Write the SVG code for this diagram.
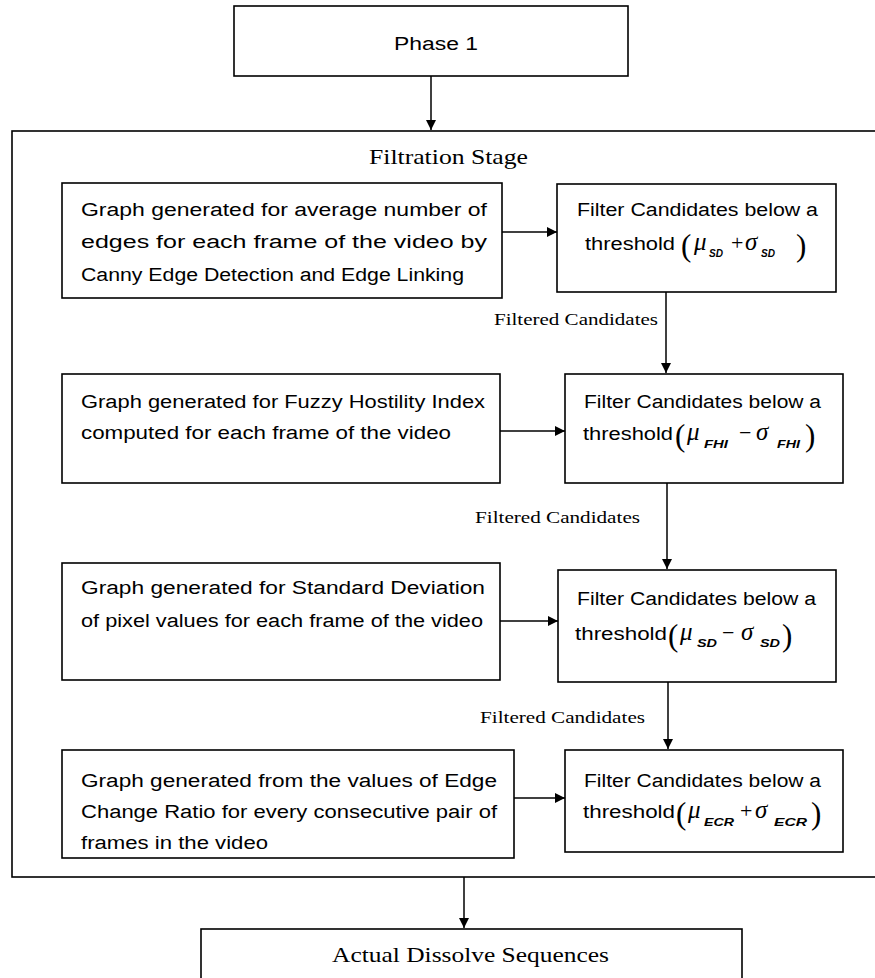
<svg xmlns="http://www.w3.org/2000/svg" width="875" height="978" viewBox="0 0 875 978">
<style>
.box{fill:#fff;stroke:#000;stroke-width:1.6}
.sans{font-family:"Liberation Sans",Arial,sans-serif;font-size:18px;fill:#000}
.serif{font-family:"Liberation Serif","Times New Roman",serif;fill:#000}
.math{font-family:"Liberation Serif","Times New Roman",serif;font-style:italic;font-size:25px}
.sub{font-family:"Liberation Sans",Arial,sans-serif;font-style:italic;font-weight:bold;font-size:11px}
.par{font-family:"Liberation Serif","Times New Roman",serif;font-size:31px}
.op{font-family:"Liberation Serif","Times New Roman",serif;font-size:22px}
.conn line{stroke:#000;stroke-width:1.5}
</style>
<defs>
<marker id="ah" viewBox="0 0 10 10" refX="10" refY="5" markerWidth="10" markerHeight="10" markerUnits="userSpaceOnUse" orient="auto">
<path d="M0,0 L10,5 L0,10 z" fill="#000"/>
</marker>
</defs>
<rect width="875" height="978" fill="#fff"/>

<g id="phase1">
<rect class="box" x="234" y="6" width="394" height="70"/>
<text class="sans" x="394" y="50" font-size="21" textLength="84" lengthAdjust="spacingAndGlyphs">Phase 1</text>
</g>

<g id="filtration-stage">
<rect class="box" x="12" y="131" width="870" height="746"/>
<text class="serif" x="369" y="164" font-size="21" textLength="159" lengthAdjust="spacingAndGlyphs">Filtration Stage</text>
</g>

<g id="graph-edges">
<rect class="box" x="62" y="183" width="440" height="115"/>
<text class="sans"><tspan x="81" y="216" textLength="406" lengthAdjust="spacingAndGlyphs">Graph generated for average number of</tspan><tspan x="81" y="248" textLength="406" lengthAdjust="spacingAndGlyphs">edges for each frame of the video by</tspan><tspan x="81" y="281" textLength="383" lengthAdjust="spacingAndGlyphs">Canny Edge Detection and Edge Linking</tspan></text>
</g>

<g id="filter-sd-plus">
<rect class="box" x="557" y="184" width="279" height="108"/>
<text class="sans" x="577" y="216" textLength="241" lengthAdjust="spacingAndGlyphs">Filter Candidates below a</text>
<text class="sans" x="585" y="250" textLength="90" lengthAdjust="spacingAndGlyphs">threshold</text>
<text><tspan class="par" x="681" y="256">(</tspan><tspan class="math" x="694" y="250">μ</tspan><tspan class="sub" x="709" y="257" textLength="14" lengthAdjust="spacingAndGlyphs">SD</tspan><tspan class="op" x="731" y="250">+</tspan><tspan class="math" x="745" y="250">σ</tspan><tspan class="sub" x="761" y="257" textLength="14" lengthAdjust="spacingAndGlyphs">SD</tspan><tspan class="par" x="796" y="256">)</tspan></text>
</g>

<g id="graph-fhi">
<rect class="box" x="62" y="374" width="438" height="109"/>
<text class="sans"><tspan x="81" y="408" textLength="404" lengthAdjust="spacingAndGlyphs">Graph generated for Fuzzy Hostility Index</tspan><tspan x="81" y="439" textLength="370" lengthAdjust="spacingAndGlyphs">computed for each frame of the video</tspan></text>
</g>

<g id="filter-fhi">
<rect class="box" x="565" y="374" width="278" height="109"/>
<text class="sans" x="584" y="408" textLength="237" lengthAdjust="spacingAndGlyphs">Filter Candidates below a</text>
<text class="sans" x="583" y="440" textLength="90" lengthAdjust="spacingAndGlyphs">threshold</text>
<text><tspan class="par" x="675" y="446">(</tspan><tspan class="math" x="687" y="440">μ</tspan><tspan class="sub" x="704" y="448" textLength="24" lengthAdjust="spacingAndGlyphs">FHI</tspan><tspan class="op" x="739" y="440">−</tspan><tspan class="math" x="756" y="440">σ</tspan><tspan class="sub" x="777" y="448" textLength="23" lengthAdjust="spacingAndGlyphs">FHI</tspan><tspan class="par" x="805" y="446">)</tspan></text>
</g>

<g id="graph-stddev">
<rect class="box" x="62" y="563" width="438" height="117"/>
<text class="sans"><tspan x="81" y="594" textLength="404" lengthAdjust="spacingAndGlyphs">Graph generated for Standard Deviation</tspan><tspan x="81" y="627" textLength="402" lengthAdjust="spacingAndGlyphs">of pixel values for each frame of the video</tspan></text>
</g>

<g id="filter-sd-minus">
<rect class="box" x="558" y="570" width="278" height="112"/>
<text class="sans" x="577" y="605" textLength="239" lengthAdjust="spacingAndGlyphs">Filter Candidates below a</text>
<text class="sans" x="575" y="640" textLength="92" lengthAdjust="spacingAndGlyphs">threshold</text>
<text><tspan class="par" x="668" y="646">(</tspan><tspan class="math" x="680" y="640">μ</tspan><tspan class="sub" x="697" y="647" textLength="20" lengthAdjust="spacingAndGlyphs">SD</tspan><tspan class="op" x="722" y="640">−</tspan><tspan class="math" x="741" y="640">σ</tspan><tspan class="sub" x="760" y="647" textLength="20" lengthAdjust="spacingAndGlyphs">SD</tspan><tspan class="par" x="782" y="646">)</tspan></text>
</g>

<g id="graph-ecr">
<rect class="box" x="62" y="750" width="452" height="108"/>
<text class="sans"><tspan x="81" y="787" textLength="416" lengthAdjust="spacingAndGlyphs">Graph generated from the values of Edge</tspan><tspan x="81" y="818" textLength="416" lengthAdjust="spacingAndGlyphs">Change Ratio for every consecutive pair of</tspan><tspan x="81" y="849" textLength="187" lengthAdjust="spacingAndGlyphs">frames in the video</tspan></text>
</g>

<g id="filter-ecr">
<rect class="box" x="565" y="750" width="278" height="102"/>
<text class="sans" x="584" y="787" textLength="237" lengthAdjust="spacingAndGlyphs">Filter Candidates below a</text>
<text class="sans" x="583" y="818" textLength="92" lengthAdjust="spacingAndGlyphs">threshold</text>
<text><tspan class="par" x="676" y="824">(</tspan><tspan class="math" x="688" y="818">μ</tspan><tspan class="sub" x="704" y="826" textLength="30" lengthAdjust="spacingAndGlyphs">ECR</tspan><tspan class="op" x="740" y="818">+</tspan><tspan class="math" x="755" y="818">σ</tspan><tspan class="sub" x="774" y="826" textLength="33" lengthAdjust="spacingAndGlyphs">ECR</tspan><tspan class="par" x="811" y="824">)</tspan></text>
</g>

<g id="actual-dissolve">
<rect class="box" x="201" y="929" width="541" height="60"/>
<text class="serif" x="332" y="962" font-size="22" textLength="277" lengthAdjust="spacingAndGlyphs">Actual Dissolve Sequences</text>
</g>

<g id="connectors" class="conn">
<line x1="431" y1="76" x2="431" y2="130" marker-end="url(#ah)"/>
<line x1="502" y1="232" x2="557" y2="232" marker-end="url(#ah)"/>
<line x1="666" y1="292" x2="666" y2="373" marker-end="url(#ah)"/>
<line x1="500" y1="431" x2="565" y2="431" marker-end="url(#ah)"/>
<line x1="667" y1="483" x2="667" y2="569" marker-end="url(#ah)"/>
<line x1="500" y1="621" x2="558" y2="621" marker-end="url(#ah)"/>
<line x1="668" y1="682" x2="668" y2="749" marker-end="url(#ah)"/>
<line x1="514" y1="798" x2="565" y2="798" marker-end="url(#ah)"/>
<line x1="464" y1="877" x2="464" y2="928" marker-end="url(#ah)"/>
<text class="serif" x="494" y="325" font-size="17" textLength="164" lengthAdjust="spacingAndGlyphs">Filtered Candidates</text>
<text class="serif" x="475" y="523" font-size="17" textLength="165" lengthAdjust="spacingAndGlyphs">Filtered Candidates</text>
<text class="serif" x="480" y="723" font-size="17" textLength="165" lengthAdjust="spacingAndGlyphs">Filtered Candidates</text>
</g>
</svg>
